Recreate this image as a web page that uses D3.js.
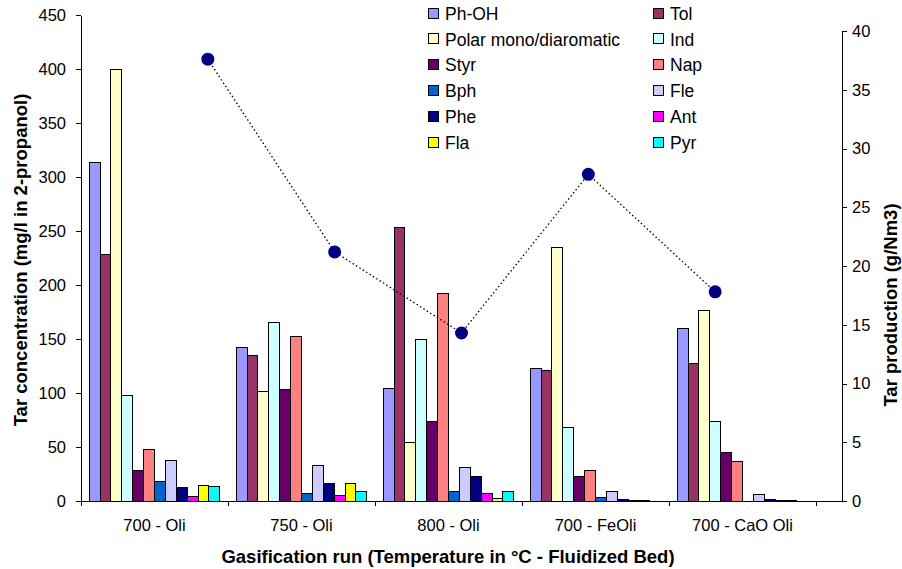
<!DOCTYPE html>
<html>
<head>
<meta charset="utf-8">
<script src="https://cdn.jsdelivr.net/npm/d3@7"></script>
<style>
  body { margin: 0; background: #fff; }
  svg { font-family: "Liberation Sans", Arial, sans-serif; }
  .axis path, .axis line { stroke: #000; shape-rendering: crispEdges; }
  .axis text { font-size: 16.5px; fill: #000; }
</style>
</head>
<body>
<div id="chart"></div>
<script>
// runs on the x axis
var runs = ["700 - Oli", "750 - Oli", "800 - Oli", "700 - FeOli", "700 - CaO Oli"];

// compounds, in legend order
var species = ["Ph-OH", "Tol", "Polar mono/diaromatic", "Ind", "Styr", "Nap",
               "Bph", "Fle", "Phe", "Ant", "Fla", "Pyr"];
var colors = ["#9999FF", "#993366", "#FFFFCC", "#CCFFFF", "#660066", "#FF8080",
              "#0066CC", "#CCCCFF", "#000080", "#FF00FF", "#FFFF00", "#00FFFF"];

// tar concentration, mg/l in 2-propanol (one value per run)
var phOH  = [313, 142, 104, 123, 160];
var tol   = [228, 135, 253, 121, 127];
var polar = [400, 101, 54, 235, 176];
var ind   = [98, 165, 150, 68, 74];
var styr  = [28, 103, 74, 23, 45];
var nap   = [48, 152, 192, 28, 37];
var bph   = [18.5, 6.5, 9, 3.5, 0];
var fle   = [37.5, 33, 31, 8.5, 6];
var phe   = [12.5, 16, 22.5, 1.5, 1.5];
var ant   = [4, 5, 6.5, 0.7, 0.5];
var fla   = [14.5, 16, 2, 0.7, 0.5];
var pyr   = [13.5, 8.5, 8.5, 0, 0];

// tar production g/Nm3 (secondary axis)
var tarProduction = [37.6, 21.2, 14.3, 27.8, 17.8];

var leftTicks = [0, 50, 100, 150, 200, 250, 300, 350, 400, 450];
var rightTicks = [0, 5, 10, 15, 20, 25, 30, 35, 40];

var seriesValues = [phOH, tol, polar, ind, styr, nap, bph, fle, phe, ant, fla, pyr];

var svgWidth = 902, svgHeight = 569;
var plotLeft = 81, plotRight = 842, catRight = 816, plotTop = 15, plotBottom = 501;

var svg = d3.select("#chart").append("svg")
  .attr("width", svgWidth)
  .attr("height", svgHeight);

var x0 = d3.scaleBand().domain(runs).range([plotLeft, catRight]).padding(0);
var x1 = d3.scaleBand().domain(species).range([0, x0.bandwidth()])
  .paddingInner(0).paddingOuter(0.75);
var yL = d3.scaleLinear().domain([0, 450]).range([plotBottom, plotTop]);
var yR = d3.scaleLinear().domain([0, 40]).range([plotBottom, 31]);
// secondary category axis for the line: 6 slots across the full width
var xLine = d3.scaleLinear().domain([0, 6]).range([plotLeft, plotRight]);

// bars
var cells = [];
species.forEach(function(s, i) {
  runs.forEach(function(r, j) {
    cells.push({ run: r, sp: s, color: colors[i], v: seriesValues[i][j] });
  });
});

svg.append("g").selectAll("rect")
  .data(cells.filter(function(d) { return d.v > 0; }))
  .enter().append("rect")
    .attr("x", function(d) { return x0(d.run) + x1(d.sp); })
    .attr("y", function(d) { return yL(d.v); })
    .attr("width", x1.bandwidth())
    .attr("height", function(d) { return yL(0) - yL(d.v); })
    .attr("fill", function(d) { return d.color; })
    .attr("stroke", "#000")
    .attr("stroke-width", 1)
    .attr("shape-rendering", "crispEdges");

// left axis
var leftAxis = d3.axisLeft(yL).tickValues(leftTicks).tickSize(5).tickSizeOuter(0).tickPadding(10);
svg.append("g").attr("class", "axis")
  .attr("transform", "translate(" + plotLeft + ",0)")
  .call(leftAxis);

// right axis
var rightAxis = d3.axisRight(yR).tickValues(rightTicks).tickSize(5).tickSizeOuter(0).tickPadding(5);
svg.append("g").attr("class", "axis")
  .attr("transform", "translate(" + plotRight + ",0)")
  .call(rightAxis);

// x axis: labels centred in each run, ticks on run boundaries
var bottomAxis = d3.axisBottom(x0).tickSize(0).tickSizeOuter(0).tickPadding(18);
var xg = svg.append("g").attr("class", "axis")
  .attr("transform", "translate(0," + plotBottom + ")")
  .call(bottomAxis);
xg.select(".domain").remove();
xg.append("line")
  .attr("x1", plotLeft).attr("x2", plotRight)
  .attr("y1", 0).attr("y2", 0);
xg.selectAll(".bound")
  .data(runs.map(function(r) { return x0(r); }).concat([catRight]))
  .enter().append("line")
    .attr("class", "bound")
    .attr("x1", function(d) { return d; }).attr("x2", function(d) { return d; })
    .attr("y1", 0).attr("y2", 5);

// tar production line
var pts = tarProduction.map(function(v, i) { return { x: xLine(i + 1), y: yR(v) }; });
svg.append("path")
  .datum(pts)
  .attr("fill", "none")
  .attr("stroke", "#000")
  .attr("stroke-width", 1.3)
  .attr("stroke-dasharray", "1.5,2.5")
  .attr("d", d3.line().x(function(d) { return d.x; }).y(function(d) { return d.y; }));
svg.append("g").selectAll("circle")
  .data(pts)
  .enter().append("circle")
    .attr("cx", function(d) { return d.x; })
    .attr("cy", function(d) { return d.y; })
    .attr("r", 6.5)
    .attr("fill", "#000080");

// axis titles
svg.append("text")
  .attr("x", 448).attr("y", 563)
  .attr("text-anchor", "middle")
  .style("font-size", "18.5px").style("font-weight", "bold")
  .text("Gasification run (Temperature in °C - Fluidized Bed)");

svg.append("text")
  .attr("transform", "translate(27,260) rotate(-90)")
  .attr("text-anchor", "middle")
  .style("font-size", "18.5px").style("font-weight", "bold")
  .text("Tar concentration (mg/l in 2-propanol)");

svg.append("text")
  .attr("transform", "translate(897,305) rotate(-90)")
  .attr("text-anchor", "middle")
  .style("font-size", "18.5px").style("font-weight", "bold")
  .text("Tar production (g/Nm3)");

// legend, two columns
var legend = svg.append("g").selectAll("g")
  .data(species)
  .enter().append("g")
    .attr("transform", function(d, i) {
      var col = i % 2, row = Math.floor(i / 2);
      return "translate(" + (col === 0 ? 428 : 653) + "," + (13.5 + row * 25.8) + ")";
    });
legend.append("rect")
  .attr("x", 0.5).attr("y", -5.5)
  .attr("width", 10).attr("height", 10)
  .attr("fill", function(d, i) { return colors[i]; })
  .attr("stroke", "#000")
  .attr("shape-rendering", "crispEdges");
legend.append("text")
  .attr("x", 17).attr("y", 0)
  .attr("dy", "0.36em")
  .style("font-size", "17.5px")
  .text(function(d) { return d; });
</script>
</body>
</html>
